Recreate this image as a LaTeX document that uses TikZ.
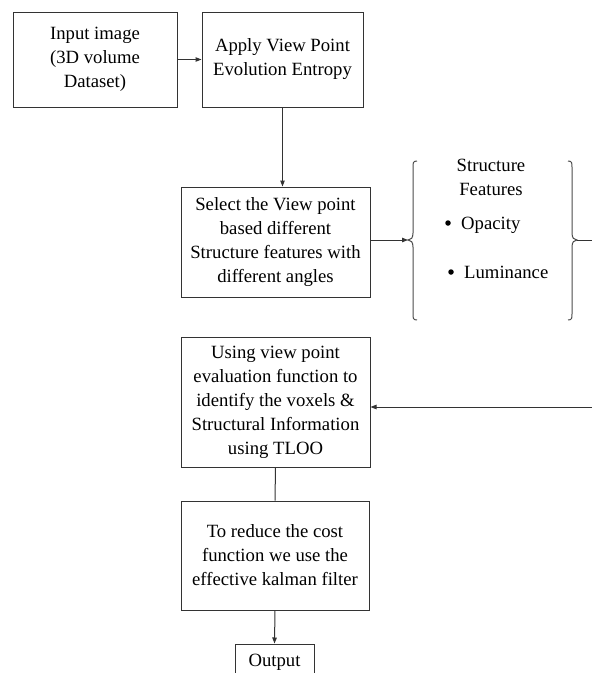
\documentclass[tikz,border=0pt]{standalone}
\usepackage{fontspec}
\setmainfont{Liberation Serif}
\usetikzlibrary{arrows.meta}
\begin{document}
\begin{tikzpicture}[x=1pt,y=-1pt,
  box/.style={draw=black!80, line width=1pt, inner sep=0pt, align=center,
    font=\fontsize{18.7}{24}\selectfont},
  txt/.style={inner sep=0pt, font=\fontsize{18.7}{24}\selectfont},
  dot/.style={circle, fill=black, inner sep=0pt, minimum size=5.5pt},
  arr/.style={draw=black!80, line width=1pt, -{Triangle[length=6pt,width=4.5pt]}},
  ln/.style={draw=black!80, line width=1pt},
  brc/.style={draw=black!70, line width=1pt}]
\useasboundingbox (0,0) rectangle (592,673);
\clip (0,0) rectangle (592,673);
\fill[white] (0,0) rectangle (592,673);
\node[box, minimum width=164pt, minimum height=95pt] (in) at (95,59.5) {Input image\\(3D volume\\Dataset)};
\node[box, minimum width=161pt, minimum height=95pt] (apply) at (282.5,59.5) {Apply View Point\\Evolution Entropy};
\node[box, minimum width=189pt, minimum height=110pt] (sel) at (275.5,242) {Select the View point\\based different\\Structure features with\\different angles};
\node[box, minimum width=189pt, minimum height=130pt] (using) at (275.5,402) {Using view point\\evaluation function to\\identify the voxels \&\\Structural Information\\using TLOO};
\node[box, minimum width=188pt, minimum height=109pt] (red) at (275,555.5) {To reduce the cost\\function we use the\\effective kalman filter};
\node[box, minimum width=79pt, minimum height=36pt] (out) at (274.5,662) {Output};
% structure features
\node[txt, align=center] (sf) at (491,177) {Structure\\Features};
\node[dot] (d1) at (448,223) {};
\node[txt, anchor=base west] (op) at (461,229) {Opacity};
\node[dot] (d2) at (451,272) {};
\node[txt, anchor=base west] (lu) at (464,278) {Luminance};
% braces
\coordinate (lb) at (408,240);
\coordinate (rb) at (577,240);
\draw[brc] (417,161) .. controls (413,161) and (413,163) .. (413,167) -- (413,233)
  .. controls (413,238) and (411,240) .. (lb) .. controls (411,240) and (413,242) .. (413,247)
  -- (413,314) .. controls (413,318) and (413,320) .. (417,320);
\draw[brc] (568,161) .. controls (572,161) and (572,163) .. (572,167) -- (572,233)
  .. controls (572,238) and (574,240) .. (rb) .. controls (574,240) and (572,242) .. (572,247)
  -- (572,314) .. controls (572,318) and (572,320) .. (568,320);
% connectors
\draw[arr] (in.east) -- (apply.west);
\draw[arr] (apply.south) -- (apply.south |- sel.north);
\draw[arr] (sel.east |- lb) -- (lb);
\coordinate (c1) at (595,240);
\coordinate (c2) at (595,407);
\draw[arr] (rb) -- (c1) -- (c2) -- (c2 -| using.east);
\draw[ln] (using.south) -- (red.north);
\draw[arr] (red.south) -- (out.north);
\end{tikzpicture}
\end{document}
